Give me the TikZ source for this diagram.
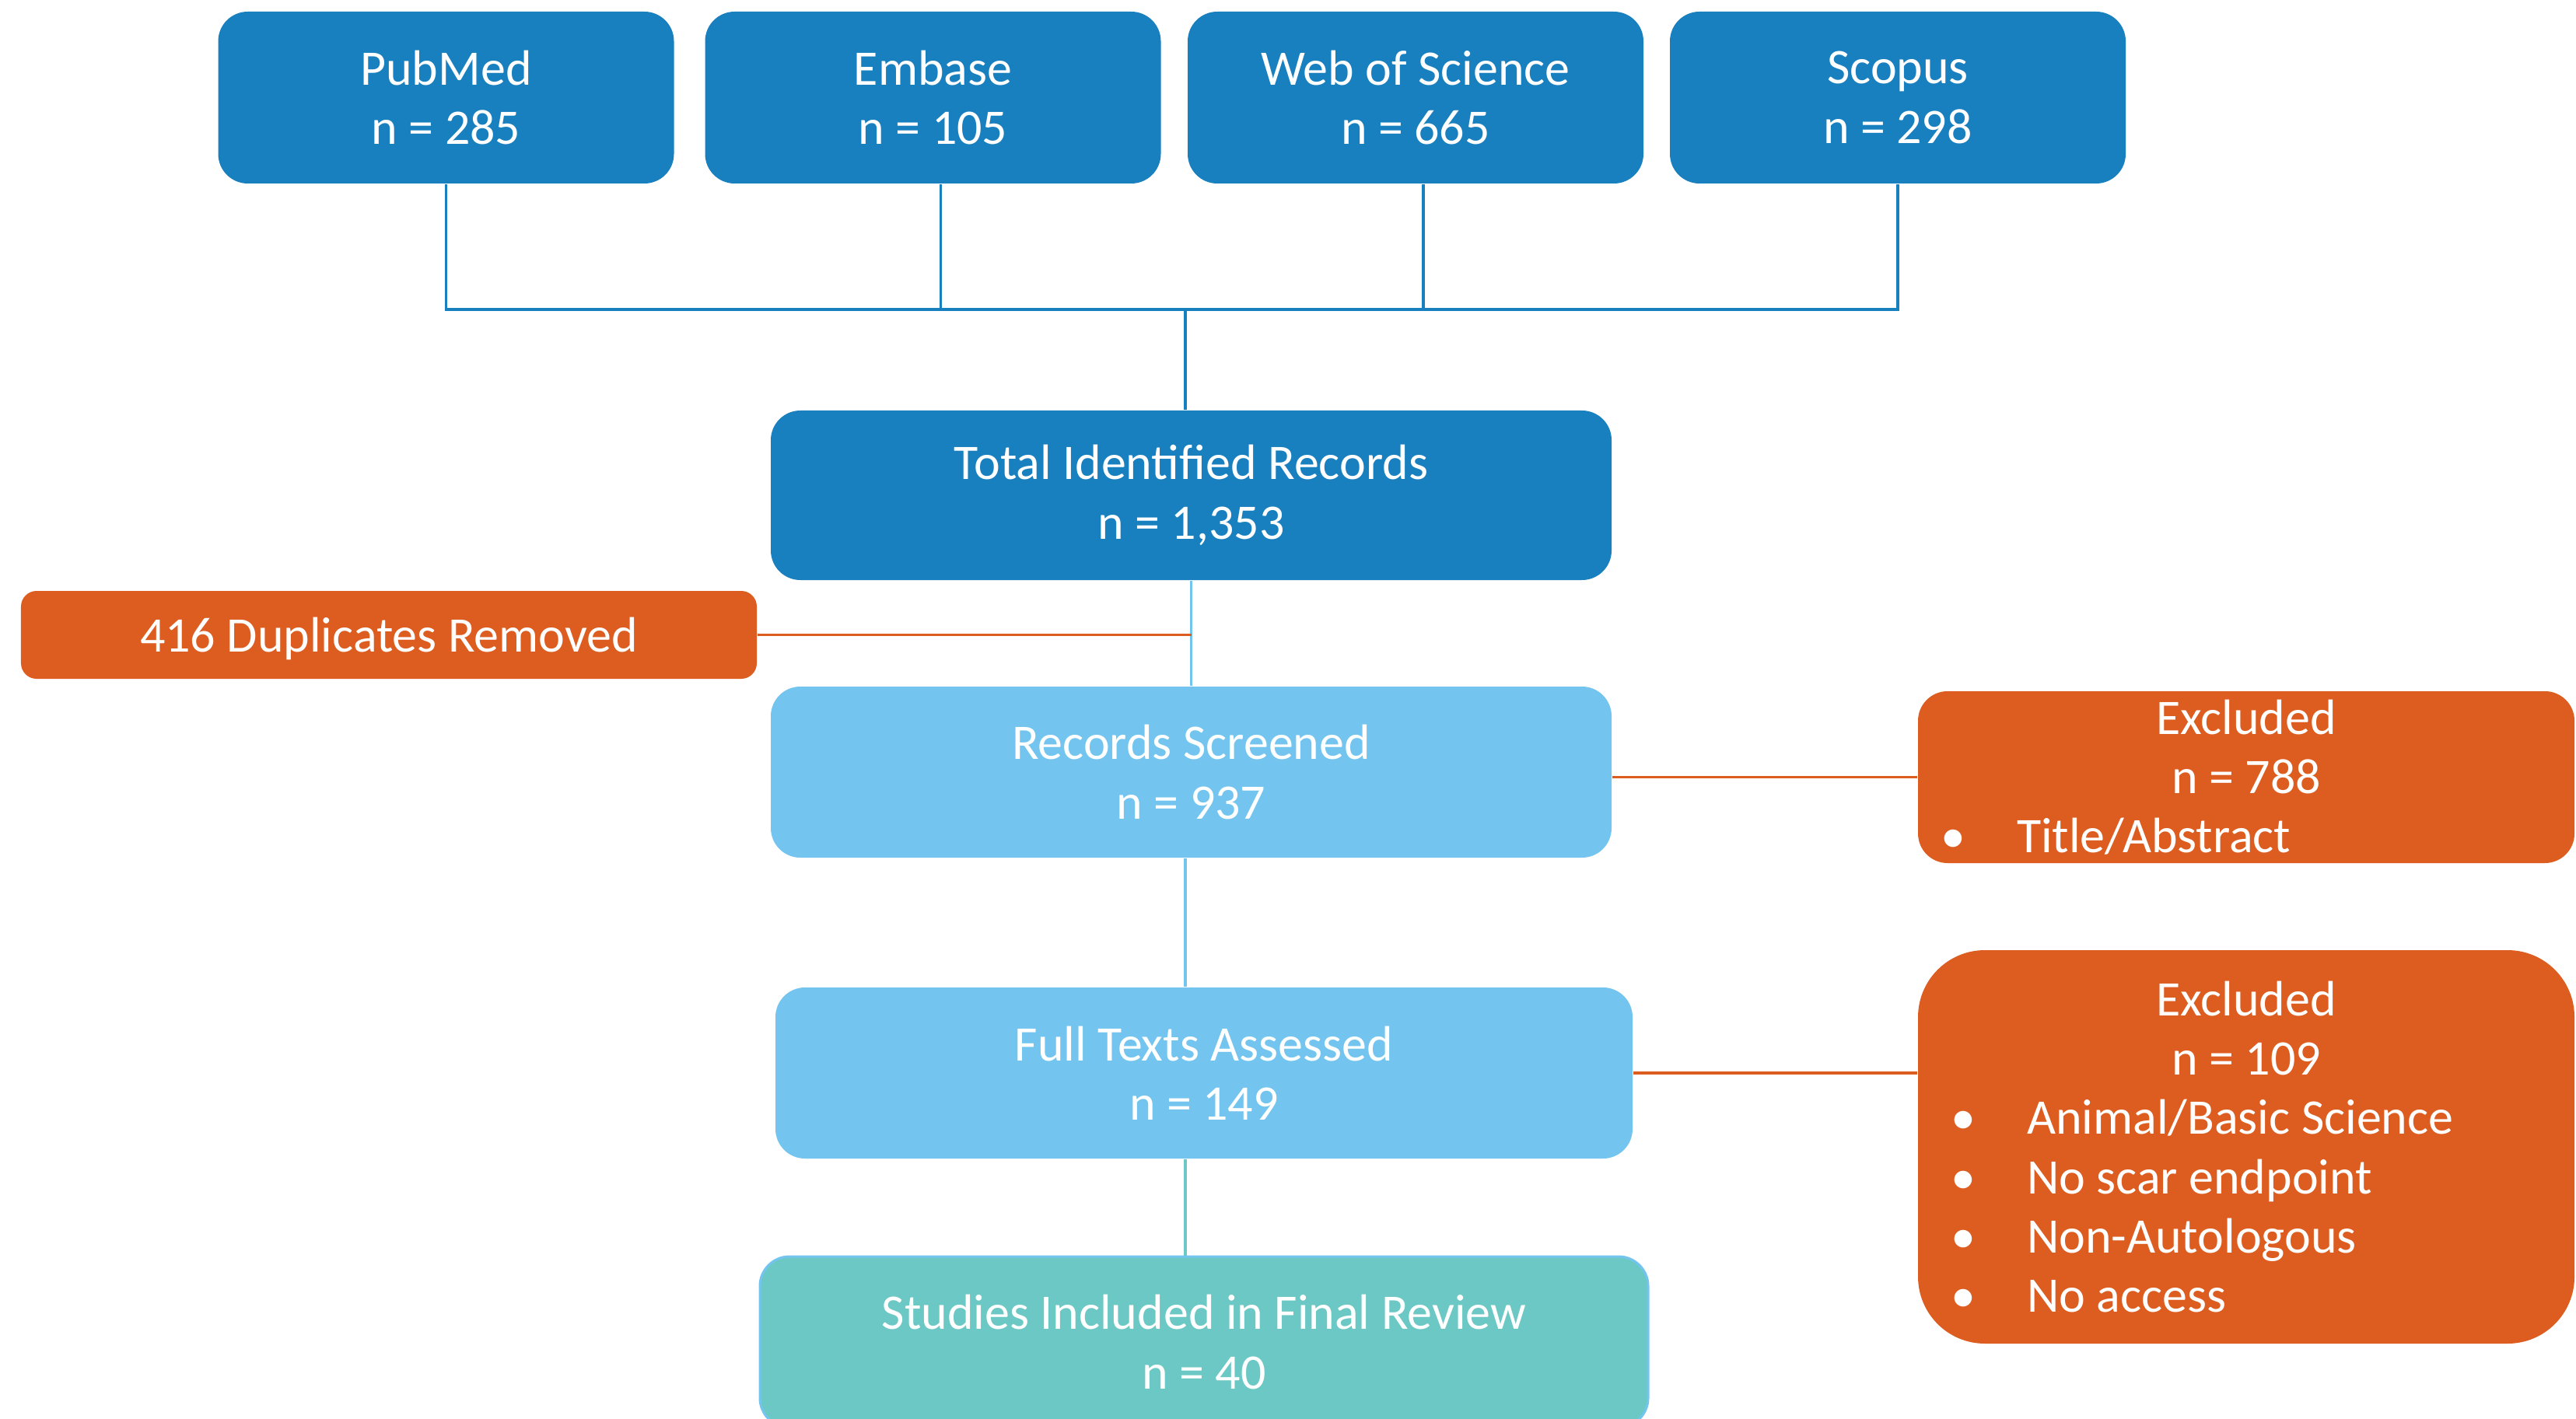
\documentclass[tikz,border=0pt]{standalone}
\usepackage{fontspec}
\setmainfont{Carlito}
\usepackage{xcolor}
\definecolor{dbblue}{HTML}{1980C0}
\definecolor{screenblue}{HTML}{73C5EF}
\definecolor{exorange}{HTML}{DD5C1F}
\definecolor{inclteal}{HTML}{6CC8C4}

% width of the exclusion boxes and their bullet lines
\newlength{\exwidth}
\setlength{\exwidth}{8.44cm}
\newcommand{\exitem}[2][0.29cm]{\makebox[\exwidth][l]{\hspace{#1}\makebox[0.98cm][l]{\textbullet}#2}}

\begin{document}
\begin{tikzpicture}[
        box/.style={rectangle, text=white, align=flush center, inner sep=0pt, rounded corners=0.38cm, minimum height=2.2cm, font=\fontsize{18.2pt}{21.7pt}\selectfont},
        source/.style={box, fill=dbblue, minimum width=5.86cm, minimum height=2.21cm},
        stage/.style={box, fill=screenblue},
        excl/.style={box, fill=exorange, text width=\exwidth},
        link/.style={line width=0.033cm}]

    \useasboundingbox (0,0) rectangle (33.12,-18.25);

    % databases searched
    \node (pubmed) [source] at (5.735, -1.255) {PubMed\\ n = 285};
    \node (embase) [source] at (11.995, -1.255) {Embase\\ n = 105};
    \node (wos) [source] at (18.20, -1.255) {Web of Science\\ n = 665};
    \node (scopus) [source] at (24.40, -1.255) {Scopus\\ n = 298};

    % main flow
    \node (total) [box, fill=dbblue, minimum width=10.81cm, minimum height=2.18cm] at (15.315, -6.37) {Total Identified Records\\ n = 1,353};
    \node (dup) [box, fill=exorange, minimum width=9.46cm, minimum height=1.13cm, rounded corners=0.2cm, text depth=0pt] at (5.0, -8.165) {416 Duplicates Removed};
    \node (screened) [stage, minimum width=10.81cm] at (15.315, -9.93) {Records Screened\\ n = 937};
    \node (fulltext) [stage, minimum width=11.02cm] at (15.48, -13.80) {Full Texts Assessed\\ n = 149};
    \node (studies) [box, fill=inclteal, draw=screenblue, line width=0.03cm, minimum width=11.42cm] at (15.48, -17.26) {Studies Included in Final Review\\ n = 40};

    % exclusions
    \node (excl1) [excl, minimum height=2.21cm] at (28.88, -9.995) {Excluded\\ n = 788\\ \exitem{Title/Abstract}};
    \node (excl2) [excl, minimum height=5.06cm, rounded corners=0.86cm] at (28.88, -14.75) {Excluded\\ n = 109\\ \exitem[0.42cm]{Animal/Basic Science}\\ \exitem[0.42cm]{No scar endpoint}\\ \exitem[0.42cm]{Non-Autologous}\\ \exitem[0.42cm]{No access}};

    \coordinate (bus) at (15.24, -3.98);

    \draw [link, draw=dbblue] (pubmed.south) |- (bus) -| (scopus.south);
    \draw [link, draw=dbblue] ([xshift=0.1cm]embase.south) |- (bus);
    \draw [link, draw=dbblue] ([xshift=0.1cm]wos.south) |- (bus);
    \draw [link, draw=dbblue] (bus) -- (bus |- total.north);
    \draw [link, draw=screenblue] (total.south) -- (screened.north);
    \draw [link, draw=exorange] (dup.east) -- (dup.east -| total.south);
    \draw [link, draw=screenblue] (bus |- screened.south) -- (bus |- fulltext.north);
    \draw [link, draw=inclteal] (bus |- fulltext.south) -- (bus |- studies.north);
    \draw [link, draw=exorange] (screened.east |- excl1.west) -- (excl1.west);
    \draw [link, draw=exorange] (fulltext.east) -- (fulltext.east -| excl2.west);
\end{tikzpicture}
\end{document}
